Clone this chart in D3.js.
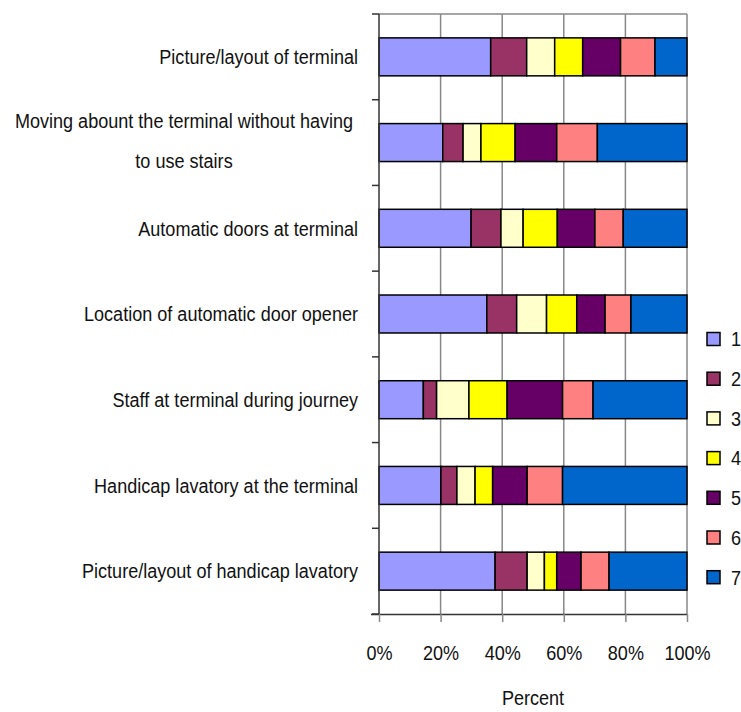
<!DOCTYPE html>
<html><head><meta charset="utf-8">
<script src="https://cdn.jsdelivr.net/npm/d3@7/dist/d3.min.js"></script>
<style>body{margin:0;background:#fff;} text{font-family:"Liberation Sans",Arial,sans-serif;}</style>
</head><body>
<svg id="chart" width="741" height="712"></svg>
<script>
const categories = [
  "Picture/layout of terminal",
  "Moving abount the terminal without having|to use stairs",
  "Automatic doors at terminal",
  "Location of automatic door opener",
  "Staff at terminal during journey",
  "Handicap lavatory at the terminal",
  "Picture/layout of handicap lavatory"
];
const seriesNames = ["1","2","3","4","5","6","7"];
const s1 = [36.3, 20.7, 29.9, 35.0, 14.4, 20.1, 37.7];
const s2 = [11.7, 6.6, 9.7, 9.7, 4.3, 5.2, 10.4];
const s3 = [9.1, 5.8, 7.2, 9.7, 10.5, 5.9, 5.6];
const s4 = [9.1, 11.1, 11.1, 9.8, 12.4, 5.7, 4.0];
const s5 = [12.3, 13.5, 12.2, 9.2, 18.0, 11.2, 7.9];
const s6 = [11.2, 13.2, 9.2, 8.4, 9.9, 11.5, 9.1];
const s7 = [10.4, 29.1, 20.7, 18.2, 30.5, 40.4, 25.3];
const colors = ["#9999FF","#993366","#FFFFCC","#FFFF00","#660066","#FF8080","#0066CC"];
const xTicks = [0, 20, 40, 60, 80, 100];

const FS = 21, SX = 0.86;
const seriesVals = [s1,s2,s3,s4,s5,s6,s7];
const rows = categories.map((c,i) => {
  const o = {cat:c};
  seriesNames.forEach((s,k) => o[s] = seriesVals[k][i]);
  return o;
});
const stack = d3.stack().keys(seriesNames).offset(d3.stackOffsetExpand)(rows);

const svg = d3.select("#chart");
const L = 379, R = 687, T = 14, B = 614;
const x = d3.scaleLinear().domain([0,1]).range([L,R]);
const y = d3.scaleBand().domain(categories).range([T,B]).paddingInner(0.557).paddingOuter(0.2785);
const step = (B-T)/categories.length;

// gridlines
svg.append("g").selectAll("line").data(xTicks.slice(1)).join("line")
  .attr("x1", d=>x(d/100)).attr("x2", d=>x(d/100)).attr("y1", T).attr("y2", B)
  .attr("stroke","#888").attr("stroke-width",1.5);
svg.append("line").attr("x1",L).attr("x2",R).attr("y1",T).attr("y2",T)
  .attr("stroke","#888").attr("stroke-width",1.5);

// bars
svg.append("g").selectAll("g").data(stack).join("g")
  .attr("fill",(d,i)=>colors[i])
  .selectAll("rect").data(d=>d).join("rect")
  .attr("x", d=>x(d[0])).attr("width", d=>x(d[1])-x(d[0]))
  .attr("y", d=>y(d.data.cat)).attr("height", y.bandwidth())
  .attr("stroke","#000").attr("stroke-width",1.5);

// x axis
const xAxis = d3.axisBottom(x).tickValues(xTicks.map(d=>d/100)).tickFormat(d3.format(".0%")).tickSize(8);
const gx = svg.append("g").attr("transform",`translate(0,${B})`).call(xAxis);
gx.select(".domain").attr("stroke","#333").attr("stroke-width",1.5).attr("d",`M${L-8},0.5H${R}`);
gx.selectAll(".tick line").attr("stroke","#888").attr("stroke-width",1.5);
gx.selectAll(".tick text").attr("font-size",FS).attr("fill","#111")
  .attr("font-family","Liberation Sans, Arial, sans-serif")
  .attr("y",0).attr("dy","0.35em")
  .attr("transform",`translate(0,39) scale(${SX},1)`);

// y axis line and ticks
svg.append("line").attr("x1",L).attr("x2",L).attr("y1",T).attr("y2",B).attr("stroke","#333").attr("stroke-width",1.5);
svg.append("g").selectAll("line").data(d3.range(categories.length+1)).join("line")
  .attr("x1",L-7).attr("x2",L).attr("y1",d=>T+d*step).attr("y2",d=>T+d*step)
  .attr("stroke","#333").attr("stroke-width",1.5);

// category labels
categories.forEach(c => {
  const lines = c.split("|");
  const cy = y(c) + y.bandwidth()/2;
  const lh = 40;
  const multi = lines.length > 1;
  const g = svg.append("g").attr("transform",`translate(${multi?184:358},${cy})`);
  const t = g.append("text").attr("font-size",FS).attr("fill","#111")
    .attr("text-anchor", multi ? "middle" : "end")
    .attr("transform",`scale(${SX},1)`);
  lines.forEach((ln,i) => {
    t.append("tspan").attr("x",0)
      .attr("y", (i-(lines.length-1)/2)*lh - (multi?2:0))
      .attr("dy","0.35em").text(ln);
  });
});

// x title
svg.append("g").attr("transform",`translate(${(L+R)/2},698)`)
  .append("text").attr("dy","0.35em").attr("transform",`scale(${SX},1)`)
  .attr("text-anchor","middle").attr("font-size",FS).attr("fill","#111").text("Percent");

// legend
const lg = svg.append("g").selectAll("g").data(seriesNames).join("g")
  .attr("transform",(d,i)=>`translate(707,${339 + i*39.7})`);
lg.append("rect").attr("x",0).attr("y",-6.5).attr("width",13).attr("height",13)
  .attr("fill",(d,i)=>colors[i]).attr("stroke","#000").attr("stroke-width",1.5);
lg.append("g").attr("transform","translate(24,0)")
  .append("text").attr("dy","0.35em").attr("transform",`scale(${SX},1)`)
  .attr("font-size",FS).attr("fill","#111").text(d=>d);
</script>
</body></html>
